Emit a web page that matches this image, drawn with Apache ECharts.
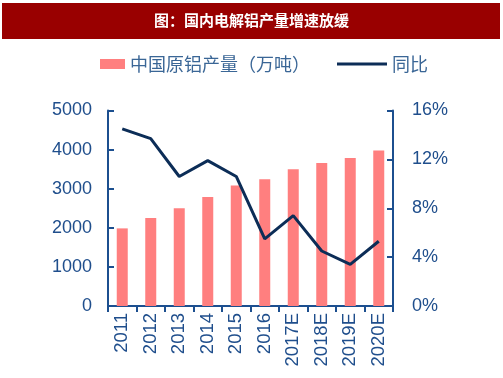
<!DOCTYPE html>
<html><head><meta charset="utf-8">
<script src="https://cdn.jsdelivr.net/npm/echarts@6/dist/echarts.min.js"></script>
<style>html,body{margin:0;padding:0;background:#fff}#c{width:503px;height:378px}</style>
</head><body><div id="c"></div>
<script>
var categories = ['2011','2012','2013','2014','2015','2016','2017E','2018E','2019E','2020E'];
var production = [1985, 2250, 2500, 2790, 3085, 3240, 3495, 3655, 3785, 3980];
var yoy = [14.5, 13.7, 10.6, 11.9, 10.6, 5.5, 7.4, 4.5, 3.4, 5.3];
var leftTicks = {min: 0, max: 5000, interval: 1000};
var rightTicks = {min: 0, max: 16, interval: 4};
var titleText = '图：国内电解铝产量增速放缓';
var barName = '中国原铝产量（万吨）';
var lineName = '同比';

var axisColor = '#1c4f8f';
var labelColor = '#1f4e8c';
var font = 'Liberation Sans, Arial, Noto Sans CJK SC, sans-serif';
var chart = echarts.init(document.getElementById('c'));
chart.setOption({
  animation: false,
  graphic: [{
    type: 'rect', shape: {x: 2, y: 3, width: 498, height: 36},
    style: {fill: '#990000'}, z: 0
  }],
  title: {
    text: titleText, left: 'center', top: 13, padding: 0,
    textStyle: {color: '#fff', fontSize: 15, fontWeight: 'bold', fontFamily: 'Noto Sans CJK SC, sans-serif'}
  },
  legend: [{
    data: [{name: barName, icon: 'rect'}], left: 100, top: 55,
    itemWidth: 25, itemHeight: 10, itemGap: 6, padding: 0,
    textStyle: {color: '#3a6696', fontSize: 18, fontFamily: 'Noto Sans CJK SC, sans-serif'}
  }, {
    data: [{name: lineName, icon: 'rect'}], left: 337, top: 55,
    itemWidth: 50, itemHeight: 3, itemGap: 5, padding: 0,
    textStyle: {color: '#3a6696', fontSize: 18, fontFamily: 'Noto Sans CJK SC, sans-serif'}
  }],
  grid: {left: 108, right: 110, top: 110.5, bottom: 72},
  xAxis: {
    type: 'category', data: categories,
    axisLine: {lineStyle: {color: axisColor, width: 2}},
    axisTick: {show: true, length: 6, lineStyle: {color: axisColor, width: 2}},
    axisLabel: {rotate: 90, margin: 7, color: labelColor, fontSize: 18.5, fontFamily: font}
  },
  yAxis: [{
    type: 'value', min: leftTicks.min, max: leftTicks.max, interval: leftTicks.interval,
    axisLine: {show: true, lineStyle: {color: axisColor, width: 2}},
    axisTick: {show: true, inside: true, length: 6, lineStyle: {color: axisColor, width: 2}},
    splitLine: {show: false},
    axisLabel: {margin: 16, color: labelColor, fontSize: 18, fontFamily: font,
      formatter: function (v) { return String(v); }}
  }, {
    type: 'value', min: rightTicks.min, max: rightTicks.max, interval: rightTicks.interval,
    axisLine: {show: true, lineStyle: {color: axisColor, width: 2}},
    axisTick: {show: true, inside: true, length: 6, lineStyle: {color: axisColor, width: 2}},
    splitLine: {show: false},
    axisLabel: {margin: 19, color: labelColor, fontSize: 18, fontFamily: font, formatter: '{value}%'}
  }],
  series: [{
    name: barName, type: 'bar', data: production, barWidth: 11,
    itemStyle: {color: '#ff7f7f'}
  }, {
    name: lineName, type: 'line', yAxisIndex: 1, data: yoy,
    symbol: 'none', lineStyle: {color: '#0c2d57', width: 3}, itemStyle: {color: '#0c2d57'}
  }]
});
</script></body></html>
